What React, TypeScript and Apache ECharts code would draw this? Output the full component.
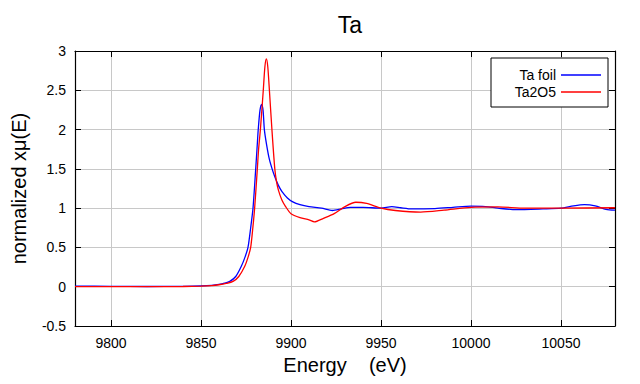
import React, { useEffect, useRef } from "react";
import * as echarts from "echarts";

const energyFoil = [
  9780, 9800, 9820, 9840, 9850, 9856, 9860, 9863, 9866, 9869.3, 9872.4, 9874.5, 9876.1, 9877.6, 9878.9,
  9880.4, 9881.1, 9881.8, 9882.8, 9883.7, 9884.5, 9885.2, 9886.5, 9888, 9889.5, 9891, 9893, 9895, 9898,
  9901, 9905, 9910, 9917, 9923, 9928, 9933, 9940, 9950, 9956, 9961, 9967, 9980, 9990, 10000, 10008,
  10015, 10025, 10040, 10050, 10057, 10063, 10069, 10075, 10080,
];
const muFoil = [
  0.008, 0.005, 0.003, 0.005, 0.01, 0.018, 0.03, 0.045, 0.068, 0.13, 0.26, 0.38, 0.5, 0.75, 1.0,
  1.5, 1.75, 2.0, 2.25, 2.32, 2.24, 2.0, 1.8, 1.62, 1.5, 1.4, 1.29, 1.21, 1.13,
  1.08, 1.045, 1.02, 1.0, 0.97, 0.99, 1.01, 1.01, 1.0, 1.02, 1.005, 0.99, 0.995, 1.01, 1.025, 1.02,
  1.0, 0.98, 0.99, 1.0, 1.03, 1.045, 1.03, 0.985, 0.975,
];
const energyOxide = [
  9780, 9800, 9820, 9840, 9850, 9856, 9860, 9864, 9867.8, 9871, 9874.3, 9876.2, 9877.6, 9878.8, 9879.8,
  9881.3, 9882, 9883, 9884.6, 9885.5, 9886.3, 9887.1, 9888, 9889.4, 9891, 9892, 9893, 9895, 9897, 9900,
  9905, 9910, 9913, 9918, 9924, 9930, 9936, 9942, 9950, 9958, 9972, 9985, 10000, 10015, 10030, 10050,
  10080,
];
const muOxide = [
  0, 0, 0, 0.003, 0.008, 0.015, 0.025, 0.042, 0.068, 0.13, 0.26, 0.38, 0.5, 0.75, 1.0,
  1.5, 1.75, 2.0, 2.5, 2.8, 2.9, 2.8, 2.5, 2.0, 1.5, 1.33, 1.23, 1.1, 1.02, 0.93,
  0.88, 0.85, 0.825, 0.87, 0.93, 1.02, 1.075, 1.06, 1.0, 0.97, 0.95, 0.975, 1.01, 1.015, 1.0, 1.0,
  1.005,
];

const seriesNames = ["Ta foil", "Ta2O5"];
const titleText = "Ta";
const xName = "Energy    (eV)";
const yName = "normalized xμ(E)";

const FONT = "Liberation Sans, Arial, sans-serif";

export default function App() {
  const ref = useRef<HTMLDivElement>(null);
  useEffect(() => {
    if (!ref.current) return;
    const chart = echarts.init(ref.current, null, { renderer: "svg" });
    const zip = (xs: number[], ys: number[]) => xs.map((x, i) => [x, ys[i]]);
    const tickCommon = { show: true, inside: true, length: 6, lineStyle: { color: "#000", width: 1 } };
    const lineCommon = { show: true, onZero: false, lineStyle: { color: "#000", width: 1.2 } };
    chart.setOption({
      animation: false,
      backgroundColor: "#fff",
      textStyle: { fontFamily: FONT },
      title: {
        text: titleText,
        left: 345,
        top: 8,
        textAlign: "center",
        textStyle: { fontFamily: FONT, fontSize: 23, fontWeight: "normal", color: "#000" },
      },
      legend: {
        orient: "vertical",
        right: 32,
        top: 58,
        align: "right",
        icon: "rect",
        itemWidth: 40,
        itemHeight: 1.5,
        itemGap: 3,
        padding: [10, 7, 8, 7],
        borderColor: "#000",
        borderWidth: 1,
        borderRadius: 0,
        backgroundColor: "#fff",
        textStyle: { fontFamily: FONT, fontSize: 14, lineHeight: 14, color: "#000", width: 58, align: "right" },
        data: seriesNames,
      },
      grid: { left: 75, right: 25, top: 51, bottom: 58 },
      xAxis: [
        {
          type: "value",
          min: 9780,
          max: 10080,
          splitNumber: 6,
          position: "bottom",
          name: xName,
          nameLocation: "middle",
          nameGap: 28,
          nameTextStyle: { fontFamily: FONT, fontSize: 20, color: "#000" },
          axisLine: lineCommon,
          axisTick: tickCommon,
          axisLabel: {
            show: true,
            showMinLabel: false,
            showMaxLabel: false,
            margin: 10,
            fontFamily: FONT,
            fontSize: 14,
            color: "#000",
            formatter: (v: number) => String(v),
          },
          splitLine: { show: true, lineStyle: { color: "#c8c8c8", width: 1 } },
        },
        {
          type: "value",
          min: 9780,
          max: 10080,
          splitNumber: 6,
          position: "top",
          axisLine: lineCommon,
          axisTick: tickCommon,
          axisLabel: { show: false },
          splitLine: { show: false },
        },
      ],
      yAxis: [
        {
          type: "value",
          min: -0.5,
          max: 3,
          interval: 0.5,
          position: "left",
          name: yName,
          nameLocation: "middle",
          nameGap: 46,
          nameTextStyle: { fontFamily: FONT, fontSize: 20, color: "#000" },
          axisLine: lineCommon,
          axisTick: tickCommon,
          axisLabel: { show: true, margin: 9, fontFamily: FONT, fontSize: 14, color: "#000" },
          splitLine: { show: true, lineStyle: { color: "#c8c8c8", width: 1 } },
        },
        {
          type: "value",
          min: -0.5,
          max: 3,
          interval: 0.5,
          position: "right",
          axisLine: lineCommon,
          axisTick: tickCommon,
          axisLabel: { show: false },
          splitLine: { show: false },
        },
      ],
      series: [
        {
          name: seriesNames[0],
          type: "line",
          data: zip(energyFoil, muFoil),
          smooth: 0.25,
          symbol: "none",
          lineStyle: { color: "#0000ff", width: 1.3 },
          itemStyle: { color: "#0000ff" },
          z: 3,
        },
        {
          name: seriesNames[1],
          type: "line",
          data: zip(energyOxide, muOxide),
          smooth: 0.25,
          symbol: "none",
          lineStyle: { color: "#ff0000", width: 1.3 },
          itemStyle: { color: "#ff0000" },
          z: 4,
        },
      ],
    });
    return () => chart.dispose();
  }, []);
  return <div ref={ref} style={{ width: 640, height: 384, position: "absolute", left: 0, top: 0 }} />;
}
